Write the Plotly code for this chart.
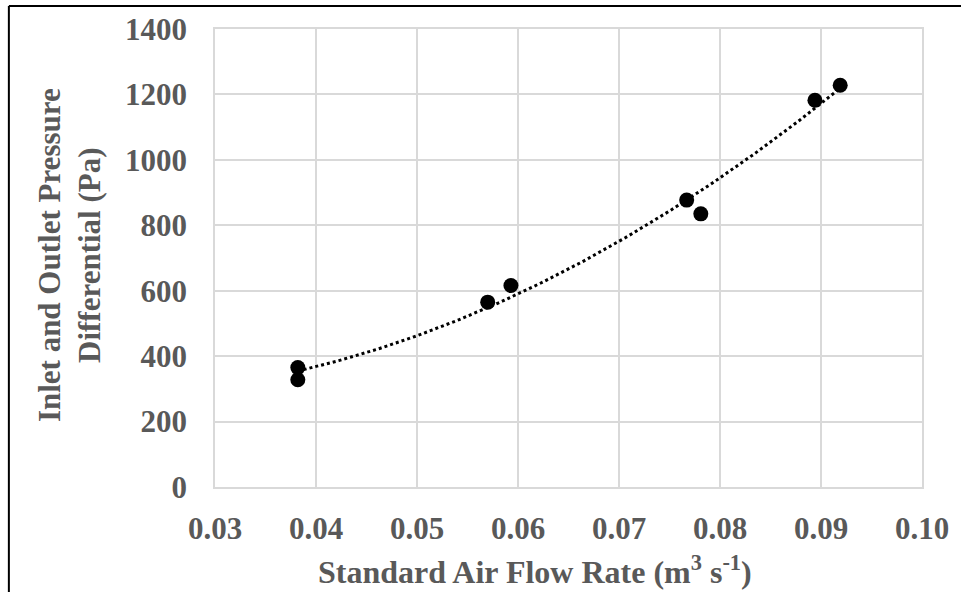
import numpy as np
import plotly.graph_objects as go

# Measured flow rates (m3/s) and inlet-outlet pressure differentials (Pa)
flow_rate = [0.0382, 0.0382, 0.0570, 0.0593, 0.0767, 0.0781, 0.0894, 0.0919]
pressure_diff = [365, 328, 565, 616, 877, 835, 1182, 1228]

x_ticks = [0.03, 0.04, 0.05, 0.06, 0.07, 0.08, 0.09, 0.10]
x_tick_labels = ["0.03", "0.04", "0.05", "0.06", "0.07", "0.08", "0.09", "0.10"]
y_ticks = [0, 200, 400, 600, 800, 1000, 1200, 1400]

# Second-order polynomial trendline through the measurements
coef = np.polyfit(flow_rate, pressure_diff, 2)
trend_x = np.linspace(min(flow_rate), max(flow_rate), 200)
trend_y = np.polyval(coef, trend_x)

W, H = 961, 592
L, R, T, B = 215, 36, 28, 105
pw, ph = W - L - R, H - T - B

def px_to_paper_x(px):
    return (px - L) / pw

def px_to_paper_y(py):
    return (H - B - py) / ph

FONT = "Liberation Serif, Times New Roman, serif"
GREY = "#595959"
GRID = "#d9d9d9"

fig = go.Figure()
fig.add_trace(go.Scatter(
    x=trend_x, y=trend_y, mode="lines",
    line=dict(color="black", width=3, dash="dot"),
    hoverinfo="skip", showlegend=False,
))
fig.add_trace(go.Scatter(
    x=flow_rate, y=pressure_diff, mode="markers",
    marker=dict(color="black", size=15),
    showlegend=False,
))

axis_common = dict(
    showgrid=True, gridcolor=GRID, gridwidth=1.5,
    showline=True, linecolor=GRID, linewidth=1.5, mirror=True,
    zeroline=False, ticks="",
    tickfont=dict(family=FONT, size=31, color=GREY, weight="bold"),
)

fig.update_xaxes(range=[0.03, 0.10], tickvals=x_ticks, ticktext=x_tick_labels,
                 ticklabelstandoff=13, **axis_common)
fig.update_yaxes(range=[0, 1400], tickvals=y_ticks,
                 ticklabelstandoff=20, **axis_common)

fig.add_annotation(
    text="Standard Air Flow Rate (m<sup>3</sup> s<sup>-1</sup>)",
    xref="paper", yref="paper", x=px_to_paper_x(536), y=px_to_paper_y(570),
    xanchor="center", yanchor="middle", showarrow=False,
    font=dict(family=FONT, size=32, color=GREY, weight="bold"),
)
fig.add_annotation(
    text="Inlet and Outlet Pressure<br>Differential (Pa)",
    xref="paper", yref="paper", x=px_to_paper_x(69), y=px_to_paper_y(255),
    xanchor="center", yanchor="middle", textangle=-90, showarrow=False,
    font=dict(family=FONT, size=31, color=GREY, weight="bold"),
)

# Outer frame (left and top edges visible)
fx, fy = px_to_paper_x(8), px_to_paper_y(5)
fig.add_shape(type="line", xref="paper", yref="paper",
              x0=fx, y0=fy, x1=fx, y1=px_to_paper_y(600),
              line=dict(color="black", width=2))
fig.add_shape(type="line", xref="paper", yref="paper",
              x0=fx, y0=fy, x1=px_to_paper_x(970), y1=fy,
              line=dict(color="black", width=2))

fig.update_layout(
    width=W, height=H,
    margin=dict(l=L, r=R, t=T, b=B),
    paper_bgcolor="white", plot_bgcolor="white",
)

fig.write_html("out.html")
